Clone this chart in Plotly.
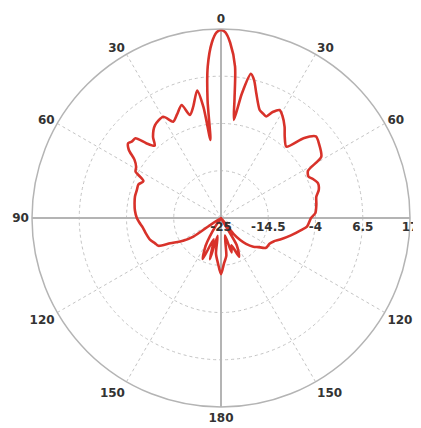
import plotly.graph_objects as go

# angle in degrees, clockwise from top (0 = boresight)
theta_deg = [0, 1.3, 3, 5.3, 6.5, 7.5, 9.5, 11.7, 13.5, 15.8, 19.7, 22, 24, 26, 28.5, 31,
             34.9, 38, 42.5, 46, 49.3, 53, 58.6, 61.5, 64.7, 67, 70.3, 74, 77.4, 82, 87,
             90, 95.7, 98.6, 104, 110, 114, 118, 123.5, 128, 131.6, 136, 139, 142, 145,
             150, 155, 159, 163, 167, 172, 176, 180, 184, 188, 191, 195, 199, 204, 209,
             214, 226, 236, 239, 243.6, 246, 249, 253, 258, 263, 267, 270,
             275, 280, 284, 288, 292, 295.5, 298.5, 301, 304, 306.5, 308.9, 310.5, 313,
             315, 317.5, 320, 324.6, 330.3, 333.6, 337, 340.8, 343.2, 346, 349.4, 351,
             352.3, 353.5, 355, 357, 358.7, 360]
gain_db = [16.8, 16.3, 14.0, 8.8, 1.5, -3.0, 3.0, 7.7, 6.5, 3.8, 0.5, 0.0, -0.3, 1.2, 2.3, 1.5,
           -0.3, -2.0, -3.5, 0.5, 2.8, 2.3, 1.1, -3.0, -3.5, -2.8, -2.1, -2.4, -3.3, -3.6, -4.0,
           -5.0, -5.8, -7.0, -9.0, -11.0, -12.2, -12.8, -13.0, -14.5, -15.4, -17.0, -18.5, -20.5, -25,
           -18, -15.5, -18.5, -17, -21, -16.5, -15, -12.5, -15, -17, -21, -15.5, -20, -15, -18,
           -23, -25, -17.6, -15.2, -12.4, -9.8, -9.3, -8.5, -8.0, -7.5, -6.8, -6.3,
           -5.8, -5.5, -5.3, -5.3, -5.2, -5.9, -3.4, -3.0, -1.8, 0.5, 1.5, 1.1, 1.0,
           -1.5, -3.2, -1.5, 0.3, 0.9, -1.1, 0.0, 1.6, -1.1, 0.5, 3.8, 0.0,
           -7.5, 1.4, 8.8, 14.0, 16.3, 16.8]

r_ticks = [-25, -14.5, -4, 6.5, 17]
r_tick_text = ["-25", "-14.5", "-4", "6.5", "17"]
ang_ticks = [0, 30, 60, 90, 120, 150, 180, 210, 240, 270, 300, 330]
ang_tick_text = ["0", "30", "60", "90", "120", "150", "180", "150", "120", "90", "60", "30"]
r_min, r_max = -25, 17

axis_col = "#b4b4b4"
grid_col = "#c4c4c4"
label_font = dict(family="DejaVu Sans", size=12, color="#333333", weight="bold")

fig = go.Figure()

# solid cross-hair axis lines (0-180 and 90-270)
for a in (0, 90):
    fig.add_trace(go.Scatterpolar(
        r=[r_max, r_min, r_max], theta=[a, a, a + 180], mode="lines",
        line=dict(color=axis_col, width=2), hoverinfo="skip", showlegend=False))

fig.add_trace(go.Scatterpolar(
    r=gain_db, theta=theta_deg, mode="lines",
    line=dict(color="#d8322a", width=2.6, shape="spline", smoothing=0.7),
    showlegend=False))

fig.update_layout(
    width=413, height=420,
    margin=dict(l=24, r=11, t=21, b=21),
    paper_bgcolor="white",
    polar=dict(
        bgcolor="white",
        domain=dict(x=[0, 1], y=[0, 1]),
        angularaxis=dict(
            rotation=90, direction="clockwise",
            tickmode="array", tickvals=ang_ticks, ticktext=ang_tick_text,
            ticks="", showline=True, linecolor=axis_col, linewidth=1.5,
            showgrid=True, gridcolor=grid_col, griddash="dot", gridwidth=1,
            tickfont=label_font,
        ),
        radialaxis=dict(
            range=[r_min, r_max], angle=0,
            tickmode="array", tickvals=r_ticks, ticktext=r_tick_text,
            ticks="", showline=False,
            showgrid=True, gridcolor=grid_col, griddash="dot", gridwidth=1,
            tickfont=label_font, tickangle=0,
        ),
    ),
)

fig.write_html("out.html")
